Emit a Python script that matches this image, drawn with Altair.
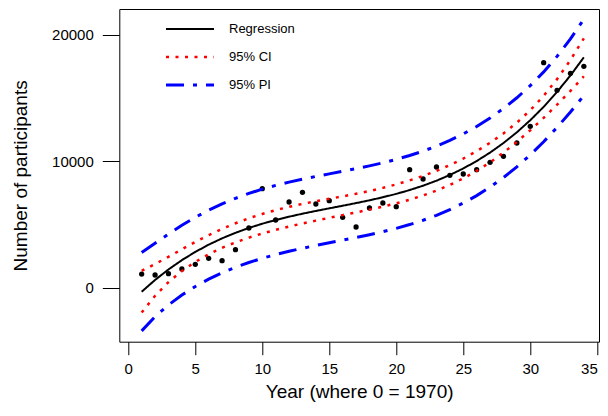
import altair as alt
import pandas as pd

# ---- data ----
years = list(range(1, 35))
participants = [1080, 1004, 1107, 1478, 1850, 2324, 2134, 3004, 4719, 7826,
                5352, 6775, 7541, 6617, 6877, 5565, 4798, 6300, 6696, 6403,
                9328, 8593, 9542, 8885, 8988, 9328, 9913, 10387, 11439, 12759,
                17787, 15605, 16949, 17502]

fit = [-316, 613, 1442, 2178, 2828, 3400, 3901, 4339, 4722, 5057,
       5352, 5613, 5849, 6067, 6274, 6479, 6688, 6909, 7150, 7417,
       7720, 8064, 8458, 8909, 9425, 10013, 10681, 11436, 12285, 13237,
       14298, 15477, 16780, 18214]

ci_lower = [-1966, -637, 442, 1318, 2038, 2640, 3151, 3584, 3957, 4282,
            4572, 4833, 5074, 5302, 5524, 5739, 5953, 6174, 6410, 6667,
            6955, 7289, 7678, 8124, 8640, 9233, 9911, 10676, 11525, 12447,
            13428, 14467, 15560, 16714]
ci_upper = [1334, 1863, 2442, 3038, 3618, 4160, 4651, 5094, 5487, 5832,
            6132, 6393, 6624, 6832, 7024, 7219, 7423, 7644, 7890, 8167,
            8485, 8839, 9238, 9694, 10210, 10793, 11451, 12196, 13045, 14027,
            15168, 16487, 18000, 19714]

pi_lower = [-3412, -2290, -1362, -580, 91, 672, 1176, 1612, 1993, 2325,
            2618, 2879, 3117, 3338, 3549, 3757, 3967, 4188, 4428, 4692,
            4991, 5332, 5724, 6174, 6690, 7279, 7950, 8708, 9557, 10500,
            11537, 12669, 13890, 15195]
pi_upper = [2780, 3516, 4246, 4936, 5565, 6128, 6626, 7066, 7451, 7789,
            8086, 8347, 8581, 8796, 8999, 9201, 9409, 9630, 9872, 10142,
            10449, 10796, 11192, 11644, 12160, 12747, 13412, 14164, 15013, 15974,
            17059, 18285, 19670, 21233]

series_names = ["Regression", "95% CI", "95% PI"]
series_colors = ["black", "red", "blue"]
series_dashes = [[1, 0], [3, 6.5], [18, 9, 4, 9]]
series_widths = [2, 3, 3.5]

x_ticks = [0, 5, 10, 15, 20, 25, 30, 35]
y_ticks = [0, 10000, 20000]

# ---- tables ----
rows = []
for i, yr in enumerate(years):
    rows.append({"x": yr, "y": fit[i], "kind": "Regression", "curve": "fit"})
    rows.append({"x": yr, "y": ci_lower[i], "kind": "95% CI", "curve": "ci_lo"})
    rows.append({"x": yr, "y": ci_upper[i], "kind": "95% CI", "curve": "ci_hi"})
    rows.append({"x": yr, "y": pi_lower[i], "kind": "95% PI", "curve": "pi_lo"})
    rows.append({"x": yr, "y": pi_upper[i], "kind": "95% PI", "curve": "pi_hi"})
lines_df = pd.DataFrame(rows)
pts_df = pd.DataFrame({"x": years, "y": participants})

FONT = "Liberation Sans"

xscale = alt.Scale(domain=[-0.67, 35.13], nice=False, zero=False)
yscale = alt.Scale(domain=[-4269, 22032], nice=False, zero=False)

x_axis = alt.Axis(values=x_ticks, title="Year (where 0 = 1970)", grid=False, domain=False,
                  tickSize=13, tickColor="black", tickWidth=1,
                  labelFont=FONT, labelFontSize=15, labelColor="black", labelPadding=7,
                  labelFlush=False,
                  labelAlign={"condition": {"test": "datum.value == 35", "value": "right"},
                              "value": "center"},
                  titleFont=FONT, titleFontSize=19, titleFontWeight="normal", titleColor="black",
                  titleBaseline="alphabetic", titleY=56)
y_axis = alt.Axis(values=y_ticks, title="Number of participants", grid=False, domain=False,
                  format="d", tickSize=17, tickColor="black", tickWidth=1,
                  labelFont=FONT, labelFontSize=15, labelColor="black", labelPadding=9,
                  labelFlush=False,
                  titleFont=FONT, titleFontSize=19, titleFontWeight="normal", titleColor="black",
                  titleAngle=270, titleBaseline="alphabetic", titleAlign="center",
                  titleX=-92.7, titleY=166.35)

legend = alt.Legend(title=None, orient="none", legendX=64.2, legendY=13.5,
                    symbolType="M-4.8,0H4.8", symbolSize=100, padding=0,
                    labelOffset=32.5, rowPadding=14,
                    labelFont=FONT, labelFontSize=13, labelColor="black", labelLimit=300,
                    labelExpr="datum.label == 'Regression' ? datum.label : '\u00a0\u00a0\u00a0' + datum.label")

points = alt.Chart(pts_df).mark_circle(size=28, color="black", opacity=1).encode(
    x=alt.X("x:Q", scale=xscale, axis=x_axis),
    y=alt.Y("y:Q", scale=yscale, axis=y_axis),
)

lines = alt.Chart(lines_df).mark_line().encode(
    x=alt.X("x:Q", scale=xscale, axis=x_axis),
    y=alt.Y("y:Q", scale=yscale, axis=y_axis),
    color=alt.Color("kind:N", scale=alt.Scale(domain=series_names, range=series_colors), legend=legend),
    strokeDash=alt.StrokeDash("kind:N", scale=alt.Scale(domain=series_names, range=series_dashes), legend=legend),
    strokeWidth=alt.StrokeWidth("kind:N", scale=alt.Scale(domain=series_names, range=series_widths), legend=legend),
    detail="curve:N",
    order="x:Q",
)

chart = alt.layer(points, lines).properties(
    width=479.7, height=332.7,
    autosize=alt.AutoSizeParams(type="none"),
    padding={"left": 111.3, "top": 1, "right": 1, "bottom": 60.3},
    background="white",
).configure_view(stroke="black", strokeWidth=1)

chart.save("out.html", embed_options={"renderer": "svg", "actions": False})
